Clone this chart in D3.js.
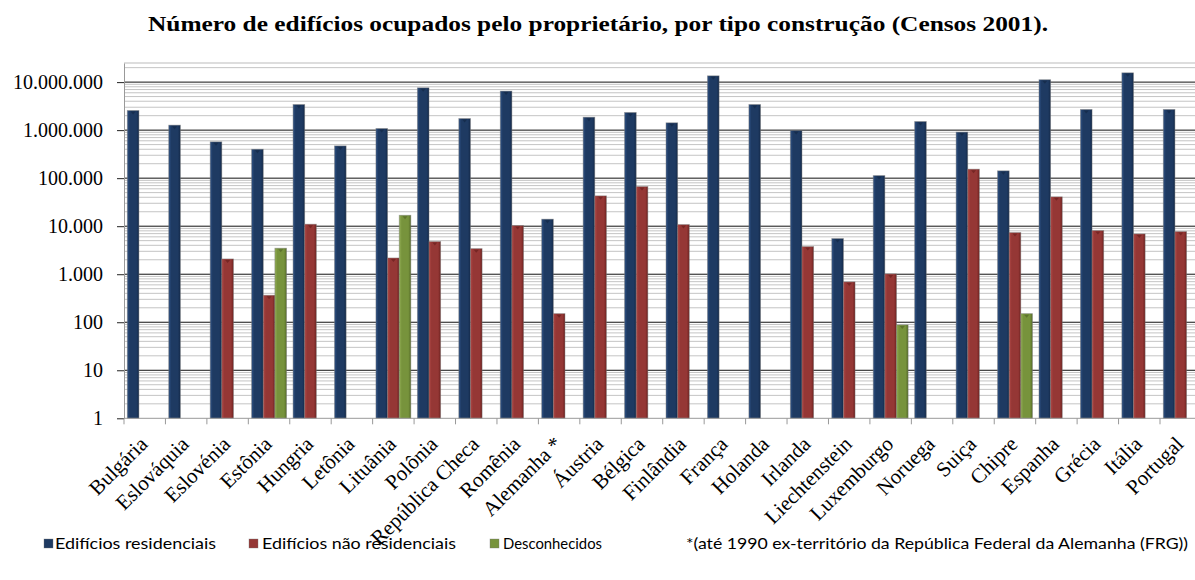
<!DOCTYPE html>
<html><head><meta charset="utf-8">
<script src="https://cdn.jsdelivr.net/npm/d3@7"></script>
<style>body{margin:0;background:#fff;} svg{display:block;}</style>
</head><body>
<svg id="c" width="1195" height="580"></svg>
<script>
const categories = ["Bulgária","Eslováquia","Eslovénia","Estônia","Hungria","Letônia","Lituânia","Polônia","República Checa","Romênia","Alemanha *","Áustria","Bélgica","Finlândia","França","Holanda","Irlanda","Liechtenstein","Luxemburgo","Noruega","Suiça","Chipre","Espanha","Grécia","Itália","Portugal"];
const residenciais = [2560000,1270000,570000,400000,3410000,470000,1080000,7600000,1740000,6500000,14000,1860000,2330000,1420000,13500000,3410000,980000,5520,113000,1510000,910000,142000,11200000,2690000,15600000,2690000];
const naoResidenciais = [null,null,2080,365,11000,null,2180,4780,3410,10300,151,42800,66800,10800,null,null,3760,692,1015,null,154000,7360,40800,8100,6900,7720];
const desconhecidos = [null,null,null,3480,null,null,16900,null,null,null,null,null,null,null,null,null,null,null,88,null,null,151,null,null,null,null];
const seriesNames = ["Edifícios residenciais","Edifícios não residenciais","Desconhecidos"];
const yTicks = [1,10,100,1000,10000,100000,1000000,10000000];
const title = "Número de edifícios ocupados pelo proprietário, por tipo construção (Censos 2001).";
const footnote = "*(até 1990 ex-território da República Federal da Alemanha (FRG))";

const colors = [
  {base:"#1E3A62", edge:"#2F5285", dark:"#142a4a"},
  {base:"#953735", edge:"#B04846", dark:"#6e2220"},
  {base:"#77933C", edge:"#92AE55", dark:"#566c28"}
];

const svg = d3.select("#c");
const pLeft = 124, bandW = 41.44, pBottom = 418.3, pTop = 63;
const x = d3.scaleBand().domain(categories).range([pLeft, pLeft + categories.length*bandW]).padding(0);
const y = d3.scaleLog().domain([1, 2.5e7]).range([pBottom, pTop]);
const xs = d3.scaleBand().domain([0,1,2]).range([3.3, 38.2]).padding(0);

const defs = svg.append("defs");
colors.forEach((c,i)=>{
  const g = defs.append("linearGradient").attr("id","g"+i).attr("x1","0").attr("x2","1").attr("y1","0").attr("y2","0");
  g.append("stop").attr("offset","0%").attr("stop-color",c.edge);
  g.append("stop").attr("offset","22%").attr("stop-color",c.base);
  g.append("stop").attr("offset","78%").attr("stop-color",c.base);
  g.append("stop").attr("offset","100%").attr("stop-color",c.dark);
});

// title
svg.append("text").attr("x",598).attr("y",31).attr("text-anchor","middle")
  .attr("font-family","Liberation Serif, Times New Roman, serif").attr("font-weight","bold")
  .attr("font-size",22).attr("textLength",900).attr("lengthAdjust","spacingAndGlyphs").text(title);

const xRight = x.range()[1];
// minor gridlines
const minor = [];
for (let d=0; d<8; d++) for (let k=2; k<=9; k++){ const v=k*Math.pow(10,d); if (v<=2.5e7) minor.push(v); }
svg.append("g").selectAll("line").data(minor).join("line")
  .attr("x1",pLeft).attr("x2",xRight).attr("y1",d=>y(d)).attr("y2",d=>y(d))
  .attr("stroke","#c4c4c4").attr("stroke-width",1);
svg.append("line").attr("x1",pLeft).attr("x2",xRight).attr("y1",pTop).attr("y2",pTop).attr("stroke","#bbb");
svg.append("g").selectAll("line").data(yTicks.slice(1)).join("line")
  .attr("x1",pLeft).attr("x2",xRight).attr("y1",d=>y(d)).attr("y2",d=>y(d))
  .attr("stroke","#111").attr("stroke-width",1);

// y axis
const fmt = d3.formatLocale({decimal:",",thousands:".",grouping:[3],currency:["",""]}).format(",d");
const ya = svg.append("g").attr("transform",`translate(${pLeft},0)`)
  .call(d3.axisLeft(y).tickValues(yTicks).tickFormat(fmt).tickSize(7).tickPadding(14).tickSizeOuter(0));
ya.select(".domain").attr("stroke","#999");
ya.selectAll(".tick line").attr("stroke","#222");
ya.selectAll(".tick text").attr("font-family","Liberation Serif, Times New Roman, serif").attr("font-size",20).attr("fill","#000");

// bars
const seriesData = [residenciais, naoResidenciais, desconhecidos];
seriesData.forEach((arr,si)=>{
  const data = categories.map((c,i)=>({c, v:arr[i]})).filter(d=>d.v!=null);
  const g = svg.append("g");
  g.selectAll("rect").data(data).join("rect")
    .attr("x",d=>x(d.c)+xs(si)).attr("width",xs.bandwidth())
    .attr("y",d=>y(d.v)).attr("height",d=>pBottom-y(d.v))
    .attr("fill",`url(#g${si})`).attr("stroke","rgba(120,120,120,0.55)").attr("stroke-width",0.8);
  g.selectAll("path").data(data).join("path")
    .attr("d",d=>{const cx=x(d.c)+xs(si)+xs.bandwidth()/2, ty=y(d.v)+1; return `M${cx-2.5},${ty}L${cx+2.5},${ty}L${cx},${ty+3}Z`;})
    .attr("fill",colors[si].dark).attr("opacity",0.8);
});

// x axis
svg.append("line").attr("x1",pLeft).attr("x2",xRight).attr("y1",pBottom).attr("y2",pBottom).attr("stroke","#999");
const seps = categories.map(c=>x(c)).concat([xRight]);
svg.append("g").selectAll("line").data(seps).join("line")
  .attr("x1",d=>d).attr("x2",d=>d).attr("y1",pBottom).attr("y2",pBottom+6).attr("stroke","#999");
const xa = svg.append("g").attr("transform",`translate(0,${pBottom})`)
  .call(d3.axisBottom(x).tickSize(0).tickSizeOuter(0));
xa.select(".domain").remove();
xa.selectAll(".tick text")
  .attr("font-family","Liberation Serif, Times New Roman, serif").attr("font-size",21).attr("fill","#000")
  .attr("text-anchor","end").attr("dy",null).attr("y",null)
  .attr("transform","translate(4,27) rotate(-45)");

// legend
const leg = [{t:seriesNames[0],sx:44,tx:55,w:161},{t:seriesNames[1],sx:249,tx:262,w:194},{t:seriesNames[2],sx:490,tx:503,w:99}];
leg.forEach((l,i)=>{
  svg.append("rect").attr("x",l.sx).attr("y",539).attr("width",9).attr("height",9).attr("fill",colors[i].base).attr("stroke","rgba(120,120,120,0.6)").attr("stroke-width",0.6);
  svg.append("text").attr("x",l.tx).attr("y",549).attr("font-family","Lato, Open Sans, sans-serif").attr("font-size",15)
    .attr("textLength",l.w).attr("lengthAdjust","spacingAndGlyphs").text(l.t);
});
svg.append("text").attr("x",686).attr("y",549).attr("font-family","Lato, Open Sans, sans-serif").attr("font-size",15)
  .attr("textLength",502).attr("lengthAdjust","spacingAndGlyphs").text(footnote);
</script>
</body></html>
